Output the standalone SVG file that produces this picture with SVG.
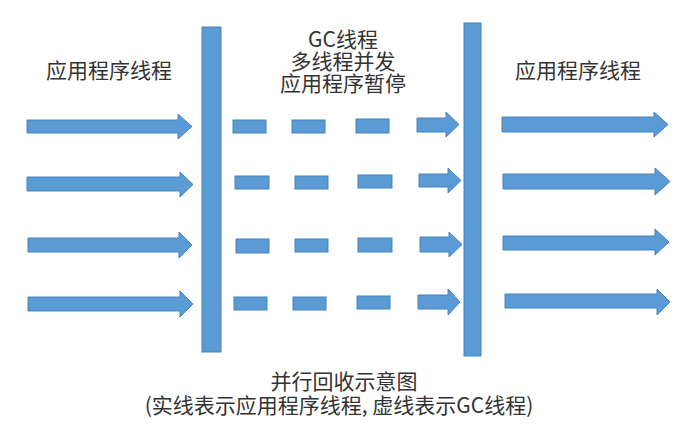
<svg xmlns="http://www.w3.org/2000/svg" width="686" height="433" viewBox="0 0 686 433">
<style>
.s{fill:#5b9bd5;stroke:#4a83ba;stroke-width:1}
.t{font-family:"Noto Sans CJK SC","Noto Sans",sans-serif;font-size:21px;fill:#333;text-anchor:middle}
</style>
<rect width="686" height="433" fill="#fff"/>
<g id="label-left"><text class="t" x="109" y="78">应用程序线程</text></g>
<g id="label-mid"><text class="t" x="343" y="47">GC线程</text><text class="t" x="343" y="69">多线程并发</text><text class="t" x="343" y="91">应用程序暂停</text></g>
<g id="label-right"><text class="t" x="578" y="78">应用程序线程</text></g>
<g id="caption"><text class="t" x="344" y="389">并行回收示意图</text><text class="t" x="339" y="413">(实线表示应用程序线程, 虚线表示GC线程)</text></g>
<g id="bar-left"><rect class="s" x="202" y="27" width="19" height="325"/></g>
<g id="bar-right"><rect class="s" x="464" y="23" width="17" height="333"/></g>
<g id="connectors">
<path class="s" d="M27,120H178V114L192,126.5L178,139V133H27Z"/>
<path class="s" d="M27,177H180V172L193,184.5L180,197V191H27Z"/>
<path class="s" d="M28,238H179V232L192,245L179,258V252H28Z"/>
<path class="s" d="M28,297H180V291L193,304L180,317V311H28Z"/>
<rect class="s" x="233" y="120" width="33" height="13"/><rect class="s" x="292" y="120" width="33" height="13"/><rect class="s" x="356" y="119" width="33" height="14"/>
<rect class="s" x="235" y="176" width="34" height="13"/><rect class="s" x="295" y="176" width="33" height="13"/><rect class="s" x="358" y="175" width="34" height="13"/>
<rect class="s" x="236" y="239" width="33" height="14"/><rect class="s" x="295" y="239" width="33" height="13"/><rect class="s" x="358" y="238" width="34" height="14"/>
<rect class="s" x="234" y="297" width="33" height="13"/><rect class="s" x="293" y="297" width="33" height="13"/><rect class="s" x="357" y="296" width="33" height="13"/>
<path class="s" d="M417,118H446V112L459,124.5L446,137V132H417Z"/>
<path class="s" d="M419,174H448V168L461,180.5L448,193V187H419Z"/>
<path class="s" d="M420,237H449V232L462,244.5L449,257V252H420Z"/>
<path class="s" d="M418,295H448V289L460,302L448,315V309H418Z"/>
<path class="s" d="M502,117H654V112L668,124.5L654,137V132H502Z"/>
<path class="s" d="M503,174H655V168L670,181.5L655,195V189H503Z"/>
<path class="s" d="M503,236H655V229L669,242L655,255V250H503Z"/>
<path class="s" d="M505,294H657V289L670,302L657,315V308H505Z"/>
</g>
</svg>
